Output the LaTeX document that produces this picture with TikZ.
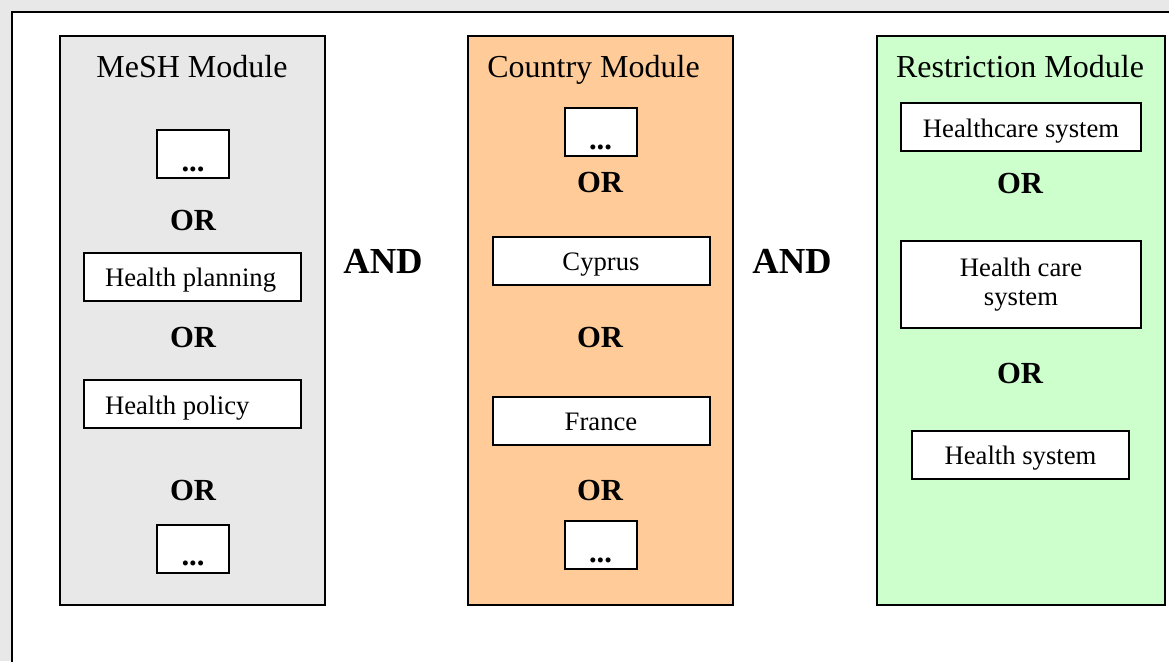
\documentclass[tikz,border=0pt]{standalone}
\usepackage{fontspec}
\setmainfont{Liberation Serif}
\usepackage{xcolor}
\definecolor{e8e8e8}{HTML}{E8E8E8}
\definecolor{ffcc99}{HTML}{FFCC99}
\definecolor{ccffcc}{HTML}{CCFFCC}
\usepackage{tikz}

\begin{document}
\begin{tikzpicture}[x=0.75pt, y=-0.75pt, line width=1.5pt,
    module/.style={draw, inner sep=0pt, minimum width=198.75pt, minimum height=426.75pt},
    termbox/.style={draw, fill=white, inner sep=0pt, minimum width=162.75pt, minimum height=36pt, font=\fontsize{20}{22}\selectfont},
    term/.style={termbox, text height=15pt, text depth=0pt},
    leftterm/.style={term, text width=131.25pt, align=flush left, inner xsep=15.75pt},
    dotsbox/.style={term, minimum width=54pt, text height=25.5pt, font=\fontsize{23}{26}\selectfont\bfseries},
    title/.style={anchor=base, font=\fontsize{24}{28}\selectfont},
    orlabel/.style={anchor=base, font=\fontsize{23}{26}\selectfont\bfseries},
    andlabel/.style={anchor=base, font=\fontsize{27.5}{30}\selectfont\bfseries}]
                        \useasboundingbox (0,0) rectangle (1169,661);
                        \clip (0,0) rectangle (1169,661);
                        \fill[e8e8e8] (0,0) rectangle (1169,661);
                        \draw[fill=white] (12,12) rectangle (1190,690);

                        \node (mesh) at (192.5, 320.5) [module, fill=e8e8e8] {};
                        \node (country) at (600.5, 320.5) [module, fill=ffcc99] {};
                        \node (restr) at (1021, 320.5) [module, fill=ccffcc, minimum width=216pt] {};

                        \node (meshtitle) at (192, 77) [title] {MeSH Module};
                        \node (mesha) at (193, 154) [dotsbox] {...};
                        \node (meshor1) at (193, 230) [orlabel] {OR};
                        \node (meshb) at (192.5, 276.5) [leftterm] {Health planning};
                        \node (meshor2) at (193, 347) [orlabel] {OR};
                        \node (meshc) at (192.5, 404) [leftterm] {Health policy};
                        \node (meshor3) at (193, 500) [orlabel] {OR};
                        \node (meshd) at (193, 548.5) [dotsbox] {...};

                        \node (and1) at (383, 273) [andlabel] {AND};

                        \node (countrytitle) at (593.5, 77) [title] {Country Module};
                        \node (countrya) at (600.5, 132) [dotsbox] {...};
                        \node (countryor1) at (600, 192) [orlabel] {OR};
                        \node (countryb) at (601, 260.5) [term] {Cyprus};
                        \node (countryor2) at (600, 347) [orlabel] {OR};
                        \node (countryc) at (601, 420.5) [term] {France};
                        \node (countryor3) at (600, 500) [orlabel] {OR};
                        \node (countryd) at (600.5, 545) [dotsbox] {...};

                        \node (and2) at (792, 273) [andlabel] {AND};

                        \node (restrtitle) at (1020, 77) [title] {Restriction Module};
                        \node (restra) at (1021, 127) [term, minimum width=180pt] {Healthcare system};
                        \node (restror1) at (1020, 193) [orlabel] {OR};
                        \node (restrb) at (1021, 284.5) [termbox, minimum width=180pt, minimum height=65.25pt, align=center] {Health care\\system};
                        \node (restror2) at (1020, 383) [orlabel] {OR};
                        \node (restrc) at (1020.5, 454.5) [term] {Health system};
                    \end{tikzpicture}
\end{document}
